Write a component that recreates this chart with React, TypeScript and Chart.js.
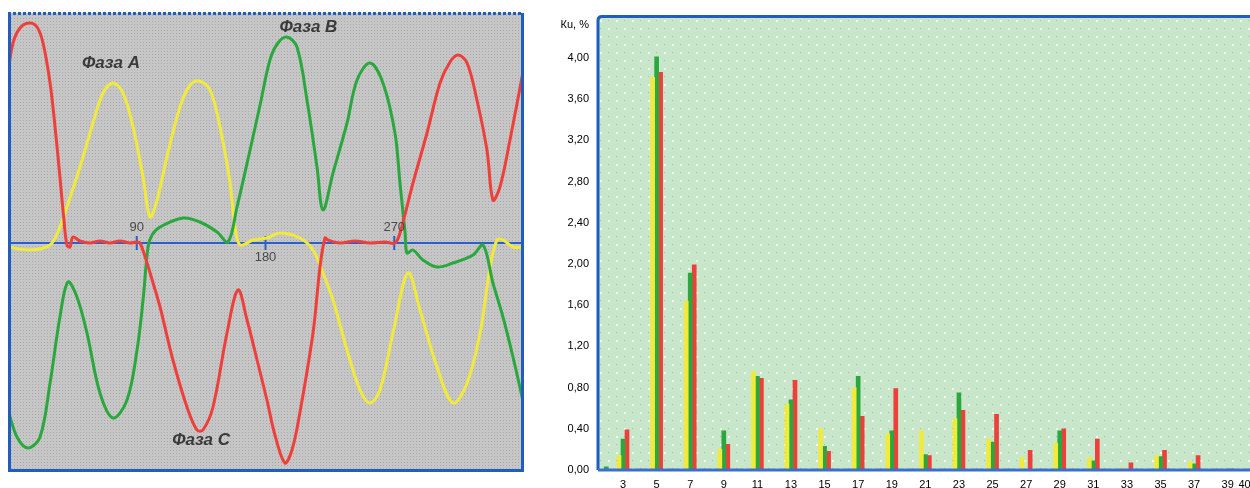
import React, { useEffect, useRef } from "react";
import { Chart, registerables } from "chart.js";
Chart.register(...registerables);

// ---------- Spectrum data (harmonic order -> Ku, %) ----------
const HARMONICS = [2, 3, 5, 7, 9, 11, 13, 15, 17, 19, 21, 23, 25, 27, 29, 31, 33, 35, 37, 39];
const PHASE_A_KU = [0.01, 0.14, 3.81, 1.64, 0.2, 0.96, 0.64, 0.4, 0.8, 0.35, 0.38, 0.5, 0.3, 0.12, 0.26, 0.12, 0.02, 0.14, 0.08, 0.01];
const PHASE_B_KU = [0.03, 0.3, 4.01, 1.91, 0.38, 0.91, 0.68, 0.23, 0.91, 0.38, 0.15, 0.75, 0.27, 0.0, 0.38, 0.09, 0.0, 0.13, 0.06, 0.01];
const PHASE_C_KU = [0.0, 0.39, 3.86, 1.99, 0.25, 0.89, 0.87, 0.18, 0.52, 0.79, 0.14, 0.58, 0.54, 0.19, 0.4, 0.3, 0.07, 0.19, 0.14, 0.01];
const X_TICKS = [3, 5, 7, 9, 11, 13, 15, 17, 19, 21, 23, 25, 27, 29, 31, 33, 35, 37, 39, 40];
const Y_TICKS = [0, 0.4, 0.8, 1.2, 1.6, 2.0, 2.4, 2.8, 3.2, 3.6, 4.0];
const Y_TITLE = "Кu, %";

// ---------- Waveform data ([angle deg, instantaneous value]) ----------
const WAVE_A: [number, number][] = [
  [0, -4], [15.4, -7], [29.4, -2], [36.3, 16], [41.2, 36], [50.3, 76], [59.4, 120], [66.4, 150], [73.4, 160],
  [80.4, 150], [87.4, 116], [94.4, 66], [99.3, 26], [104.2, 43], [111.1, 86], [120.2, 136], [127.2, 158],
  [133.5, 162], [141.2, 153], [148.2, 116], [155.2, 60], [158.7, 16], [162.2, -2], [171.3, 3], [181, 5],
  [190.1, 10], [204.1, 5], [213.2, -7], [220.2, -30], [227.2, -57], [237, -107], [246.1, -147], [253, -160],
  [260, -147], [269.1, -90], [279.6, -30], [288, -67], [299.9, -124], [311.1, -160], [320.9, -140], [330, -90],
  [337, -24], [341.8, 3], [346, 3], [353, -4], [360, -4],
];
const WAVE_B: [number, number][] = [
  [0, -167], [6.3, -194], [14, -205], [22.4, -194], [29.4, -140], [36.3, -74], [41.9, -39], [48.2, -54],
  [55.2, -90], [64.3, -150], [73.4, -175], [83.2, -157], [90.2, -107], [94.4, -57], [97.9, -4], [100.7, 8],
  [106.3, 16], [122.3, 25], [134.2, 21], [146.1, 11], [153.8, 1], [160.1, 36], [169.2, 93], [176.2, 138],
  [183.1, 183], [188.7, 200], [195, 206], [202, 196], [209, 143], [216, 76], [220.2, 33], [227.2, 70],
  [237, 120], [244, 163], [253.1, 180], [262.1, 160], [270.5, 110], [274, 60], [277.6, 10], [278.9, -10],
  [283.1, -7], [290.1, -17], [299.9, -24], [311.1, -20], [325.1, -12], [332.1, -2], [339, -40], [346, -74],
  [353, -114], [360, -158],
];
const WAVE_C: [number, number][] = [
  [0, 171], [3.5, 200], [8.4, 215], [14.7, 220], [20.3, 216], [24.5, 200], [29.4, 160], [32.9, 116],
  [36.3, 66], [39.1, 23], [41.2, -2], [43.3, -4], [45.4, 6], [50.3, 2], [57.3, 0], [64.3, 2], [71.3, 0],
  [78.3, 2], [85.3, 0], [90.2, 1], [92.3, 0], [97.2, -20], [101.4, -40], [106.3, -64], [115.3, -117],
  [125.1, -164], [132.1, -187], [136.3, -187], [143.3, -164], [153.1, -90], [160.8, -47], [167.1, -77],
  [174.1, -117], [181, -157], [186.6, -192], [193.6, -220], [198.5, -207], [203.5, -174], [213.2, -90],
  [218.1, -24], [221.6, 5], [223.7, 3], [232, 0], [242.6, 2], [253, 0], [263.6, 1], [270.5, 0], [274, 10],
  [283.1, 60], [292.9, 110], [302, 160], [309, 181], [314.6, 188], [320.9, 180], [327.8, 143], [334.8, 93],
  [339, 43], [343.9, 56], [350.9, 103], [360, 171],
];
const ANGLE_TICKS = [90, 180, 270];
const PHASE_LABELS = ["Фаза A", "Фаза B", "Фаза C"];

const YELLOW = "#f2ea3a";
const GREEN = "#2aa83e";
const RED = "#ef3f3b";
const BLUE = "#1f5dbf";

function makePattern(ctx: CanvasRenderingContext2D, size: number, base: string, dots: [number, number, string, number][]) {
  const c = document.createElement("canvas");
  c.width = size;
  c.height = size;
  const g = c.getContext("2d")!;
  g.fillStyle = base;
  g.fillRect(0, 0, size, size);
  for (const [x, y, col, r] of dots) {
    g.fillStyle = col;
    g.fillRect(x, y, r, r);
  }
  return ctx.createPattern(c, "repeat")!;
}

const wavePlugin = {
  id: "wavePlugin",
  beforeDraw(chart: any) {
    const { ctx, chartArea: a } = chart;
    ctx.save();
    ctx.fillStyle = makePattern(ctx, 3, "#c6c6c6", [[0, 0, "#a9a9a9", 1]]);
    ctx.fillRect(a.left, a.top, a.right - a.left, a.bottom - a.top);
    ctx.restore();
  },
  beforeDatasetsDraw(chart: any) {
    const { ctx, chartArea: a, scales } = chart;
    const y0 = scales.y.getPixelForValue(0);
    ctx.save();
    ctx.strokeStyle = "#2a5fd0";
    ctx.lineWidth = 2;
    ctx.beginPath();
    ctx.moveTo(a.left, y0);
    ctx.lineTo(a.right, y0);
    ctx.stroke();
    for (const t of ANGLE_TICKS) {
      const x = scales.x.getPixelForValue(t);
      ctx.beginPath();
      ctx.moveTo(x, y0 - 7);
      ctx.lineTo(x, y0 + 7);
      ctx.stroke();
    }
    ctx.restore();
  },
  afterDatasetsDraw(chart: any) {
    const { ctx, chartArea: a, scales } = chart;
    const X = (v: number) => scales.x.getPixelForValue(v);
    const Y = (v: number) => scales.y.getPixelForValue(v);
    ctx.save();
    ctx.fillStyle = "#4a4a4a";
    ctx.font = "13px 'Liberation Sans', Arial, sans-serif";
    ctx.textAlign = "center";
    ctx.textBaseline = "middle";
    ANGLE_TICKS.forEach((t, i) => {
      ctx.fillText(String(t), X(t), i % 2 === 0 ? Y(16) : Y(-14));
    });
    ctx.fillStyle = "#3a3a3a";
    ctx.font = "italic bold 17px 'Liberation Sans', Arial, sans-serif";
    const pos: [number, number][] = [[72, 180], [210, 216], [135, -197]];
    PHASE_LABELS.forEach((s, i) => ctx.fillText(s, X(pos[i][0]), Y(pos[i][1])));
    ctx.strokeStyle = BLUE;
    ctx.lineWidth = 3;
    ctx.beginPath();
    ctx.moveTo(a.left + 1.5, a.top);
    ctx.lineTo(a.left + 1.5, a.bottom - 0.5);
    ctx.lineTo(a.right - 0.5, a.bottom - 0.5);
    ctx.lineTo(a.right - 0.5, a.top);
    ctx.stroke();
    ctx.setLineDash([3, 2]);
    ctx.beginPath();
    ctx.moveTo(a.left, a.top + 0.5);
    ctx.lineTo(a.right, a.top + 0.5);
    ctx.stroke();
    ctx.restore();
  },
};

const barPlugin = {
  id: "barPlugin",
  beforeDraw(chart: any) {
    const { ctx, chartArea: a } = chart;
    ctx.save();
    ctx.fillStyle = makePattern(ctx, 16, "#c8e6ca", [
      [4, 3, "#f4fbf4", 2],
      [12, 11, "#f4fbf4", 2],
      [12, 3, "#98cc9f", 1],
      [4, 11, "#98cc9f", 1],
    ]);
    ctx.fillRect(a.left, a.top, a.right - a.left, a.bottom - a.top);
    ctx.restore();
  },
  afterDraw(chart: any) {
    const { ctx, chartArea: a } = chart;
    ctx.save();
    ctx.strokeStyle = BLUE;
    ctx.lineWidth = 3;
    ctx.beginPath();
    ctx.moveTo(a.left, a.bottom);
    ctx.lineTo(a.left, a.top + 4);
    ctx.quadraticCurveTo(a.left, a.top, a.left + 4, a.top);
    ctx.lineTo(a.right, a.top);
    ctx.stroke();
    ctx.strokeStyle = "#3a6fd0";
    ctx.beginPath();
    ctx.moveTo(a.left, a.bottom);
    ctx.lineTo(a.right, a.bottom);
    ctx.stroke();
    ctx.fillStyle = "#000";
    ctx.font = "11px 'Liberation Sans', Arial, sans-serif";
    ctx.textAlign = "right";
    ctx.textBaseline = "middle";
    ctx.fillText(Y_TITLE, a.left - 9, a.top + 8);
    ctx.restore();
  },
};

function WaveChart() {
  const ref = useRef<HTMLCanvasElement>(null);
  useEffect(() => {
    const mk = (w: [number, number][]) => w.map(([x, y]) => ({ x, y }));
    const chart = new Chart(ref.current!, {
      type: "line",
      data: {
        datasets: [
          { label: PHASE_LABELS[2], data: mk(WAVE_C), borderColor: RED, borderWidth: 3, pointRadius: 0, tension: 0.35 },
          { label: PHASE_LABELS[1], data: mk(WAVE_B), borderColor: GREEN, borderWidth: 3, pointRadius: 0, tension: 0.35 },
          { label: PHASE_LABELS[0], data: mk(WAVE_A), borderColor: YELLOW, borderWidth: 3, pointRadius: 0, tension: 0.35 },
        ],
      },
      options: {
        responsive: false,
        animation: false,
        layout: { padding: { left: 0, right: 2, top: 1, bottom: 1 } },
        plugins: { legend: { display: false }, tooltip: { enabled: false } },
        scales: {
          x: { type: "linear", min: 0, max: 360, display: false },
          y: { type: "linear", min: -228, max: 230, display: false },
        },
      } as any,
      plugins: [wavePlugin],
    });
    return () => chart.destroy();
  }, []);
  return <canvas ref={ref} width={517} height={460} style={{ position: "absolute", left: 8, top: 12, width: 517, height: 460 }} />;
}

function SpectrumChart() {
  const ref = useRef<HTMLCanvasElement>(null);
  useEffect(() => {
    const mk = (vals: number[]) => HARMONICS.map((h, i) => ({ x: h, y: vals[i] }));
    const chart = new Chart(ref.current!, {
      type: "bar",
      data: {
        datasets: [
          { label: "A", data: mk(PHASE_A_KU), backgroundColor: YELLOW, barThickness: 4 },
          { label: "B", data: mk(PHASE_B_KU), backgroundColor: GREEN, barThickness: 4 },
          { label: "C", data: mk(PHASE_C_KU), backgroundColor: RED, barThickness: 4 },
        ],
      },
      options: {
        responsive: false,
        animation: false,
        layout: { padding: { top: 0, left: 0, right: 0, bottom: 0 } },
        plugins: { legend: { display: false }, tooltip: { enabled: false } },
        scales: {
          x: {
            type: "linear",
            min: 1.51,
            max: 43.9,
            offset: false,
            grid: { display: false, drawTicks: false },
            border: { display: false },
            afterBuildTicks: (s: any) => {
              s.ticks = X_TICKS.map((v) => ({ value: v }));
            },
            afterFit: (s: any) => {
              s.height = 30;
            },
            ticks: {
              autoSkip: false,
              maxRotation: 0,
              padding: 8,
              color: "#000",
              font: { size: 11, family: "'Liberation Sans', Arial, sans-serif" },
              callback: (v: any) => String(v),
            },
          },
          y: {
            type: "linear",
            min: 0,
            max: 4.4,
            grid: { display: false, drawTicks: false },
            border: { display: false },
            afterBuildTicks: (s: any) => {
              s.ticks = Y_TICKS.map((v) => ({ value: v }));
            },
            afterFit: (s: any) => {
              s.width = 50;
            },
            ticks: {
              padding: 9,
              color: "#000",
              font: { size: 11, family: "'Liberation Sans', Arial, sans-serif" },
              callback: (v: any) => Number(v).toFixed(2).replace(".", ","),
            },
          },
        },
      } as any,
      plugins: [barPlugin],
    });
    return () => chart.destroy();
  }, []);
  return <canvas ref={ref} width={762} height={499} style={{ position: "absolute", left: 548, top: 1, width: 762, height: 499 }} />;
}

export default function App() {
  useEffect(() => {
    document.body.style.overflow = "hidden";
    document.body.style.background = "#ffffff";
  }, []);
  return (
    <div style={{ position: "fixed", left: 0, top: 0, width: 1250, height: 488, overflow: "hidden", background: "#ffffff" }}>
      <WaveChart />
      <SpectrumChart />
    </div>
  );
}
